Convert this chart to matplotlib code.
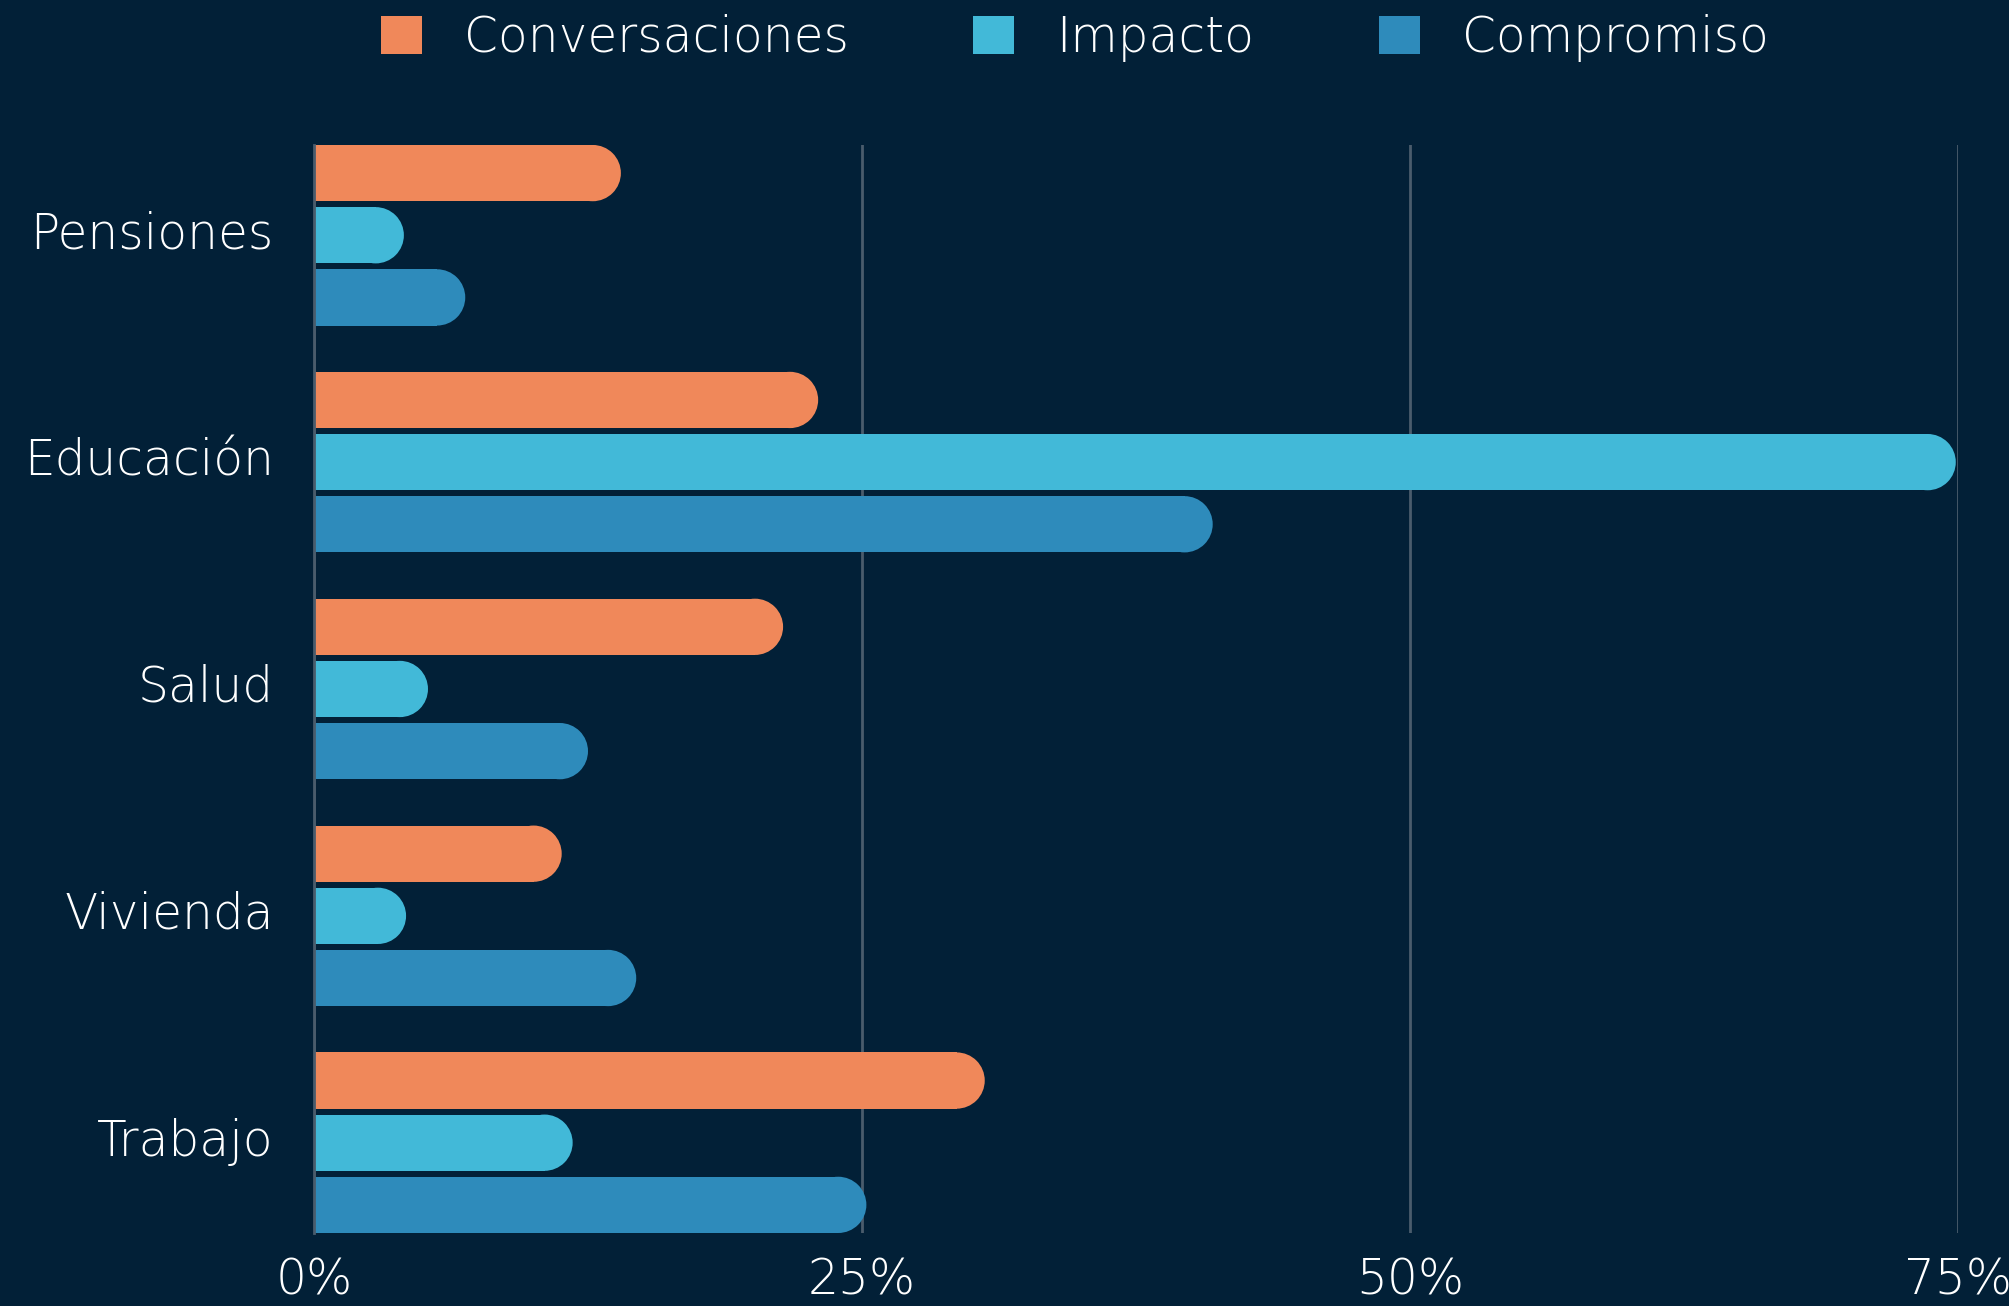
import matplotlib
matplotlib.use("Agg")
import matplotlib.pyplot as plt
from matplotlib.patches import Ellipse, Patch
from matplotlib.transforms import ScaledTranslation
import numpy as np

categories = ["Pensiones", "Educación", "Salud", "Vivienda", "Trabajo"]
series_names = ["Conversaciones", "Impacto", "Compromiso"]
conversaciones = [14.0, 23.0, 21.4, 11.3, 30.6]
impacto = [4.1, 74.9, 5.2, 4.2, 11.8]
compromiso = [6.9, 41.0, 12.5, 14.7, 25.2]
x_ticks = [0, 25, 50, 75]
x_tick_labels = ["0%", "25%", "50%", "75%"]

colors = ["#F0885A", "#42B9D8", "#2E8BBB"]
bg = "#022037"
grid_color = "#4A5C6C"

plt.rcParams['font.family'] = ['DejaVu Sans']
plt.rcParams['font.weight'] = 'light'

fig = plt.figure(figsize=(20.09, 13.06), dpi=100, facecolor=bg)
ax = fig.add_axes([0.1563, 0.0559, 0.9746 - 0.1563, 0.889 - 0.0559])
ax.set_facecolor(bg)

ax.set_xlim(0, 75)
ylo, yhi = -0.398, len(categories) - 1 + 0.398
ax.set_ylim(yhi, ylo)

pitch = 0.274
bar_h = 0.248

# compute radius of rounded caps in data units
fig.canvas.draw()
bbox = ax.get_window_extent()
px_per_x = bbox.width / 75.0
px_per_y = bbox.height / (yhi - ylo)
r_px = bar_h * px_per_y / 2.0
r_x = r_px / px_per_x

all_series = [conversaciones, impacto, compromiso]
y_base = np.arange(len(categories))
for si, (vals, col) in enumerate(zip(all_series, colors)):
    offs = (si - 1) * pitch
    for yi, v in zip(y_base, vals):
        yc = yi + offs
        ax.barh(yc, max(v - r_x, 0), height=bar_h, left=0, color=col,
                edgecolor='none', zorder=3)
        ax.add_patch(Ellipse((v - r_x, yc), 2 * r_x, bar_h, facecolor=col,
                             edgecolor='none', zorder=3))

ax.set_yticks(y_base)
ax.set_yticklabels(categories)
ax.set_xticks(x_ticks)
ax.set_xticklabels(x_tick_labels)
ax.tick_params(axis='y', length=0, pad=29, labelsize=35, labelcolor='white')
ax.tick_params(axis='x', length=0, pad=17, labelsize=35, labelcolor='white')

shift = ScaledTranslation(0, 6 / 100, fig.dpi_scale_trans)
for tk in ax.yaxis.get_major_ticks():
    tk.label1.set_transform(tk.label1.get_transform() + shift)

for s in ['top', 'right', 'bottom']:
    ax.spines[s].set_visible(False)
ax.spines['left'].set_color(grid_color)
ax.spines['left'].set_linewidth(2)
ax.spines['left'].set_zorder(4)

ax.xaxis.grid(True, color=grid_color, linewidth=2, zorder=0)
ax.set_axisbelow(True)

handles = [Patch(facecolor=c, edgecolor='none') for c in colors]
leg = fig.legend(handles, series_names, loc='center', bbox_to_anchor=(0.535, 0.971),
                 ncol=3, frameon=False, fontsize=35, handlelength=0.85,
                 handleheight=0.85, handletextpad=0.87, columnspacing=2.55)
for t in leg.get_texts():
    t.set_color('white')

fig.savefig("out.png", dpi=100, facecolor=bg)
